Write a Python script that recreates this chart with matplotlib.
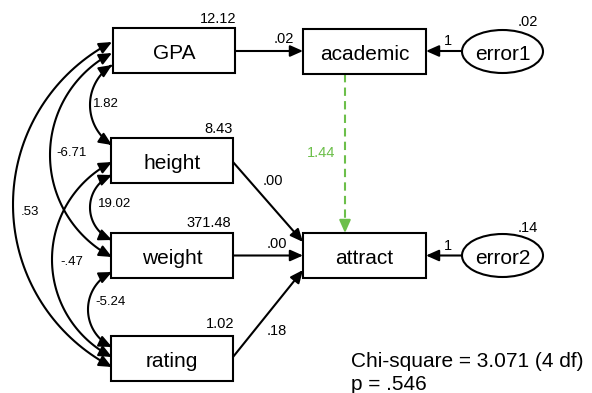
import numpy as np
import matplotlib
matplotlib.use("Agg")
from matplotlib import pyplot as plt
from matplotlib.patches import Rectangle, Ellipse, FancyArrowPatch
from matplotlib.path import Path

plt.rcParams['font.family'] = ['Liberation Sans', 'DejaVu Sans']

# observed exogenous variables and their variances
predictors = ['GPA', 'height', 'weight', 'rating']
pred_var = ['12.12', '8.43', '371.48', '1.02']

# endogenous variables and their error terms
outcomes = ['academic', 'attract']
errors = ['error1', 'error2']
err_var = ['.02', '.14']
err_weight = ['1', '1']

# regression weights
gpa_to_academic = '.02'
to_attract = ['.00', '.00', '.18']   # height, weight, rating
academic_to_attract = '1.44'

# covariances between predictors: (from, to, label)
covs = [('GPA', 'rating', '.53'),
        ('GPA', 'weight', '-6.71'),
        ('GPA', 'height', '1.82'),
        ('height', 'rating', '-.47'),
        ('height', 'weight', '19.02'),
        ('weight', 'rating', '-5.24')]

chi_text = 'Chi-square = 3.071 (4 df)'
p_text = 'p = .546'

# ---- layout (pixels) ----
box_w, box_h = 122, 45
pred_pos = {'GPA': (174, 50.5), 'height': (172, 160.5),
            'weight': (172, 255.5), 'rating': (172, 358.5)}
out_pos = {'academic': (364.5, 51), 'attract': (364.5, 255.5)}
err_pos = {'error1': (502.5, 51.5), 'error2': (502.5, 255.5)}
var_lab_pos = [(218, 23), (219, 133), (209, 227), (220, 328)]
err_var_pos = [(528, 26), (528, 232)]
cov_ends = {'.53': (42, 367, 13), '-6.71': (53, 257, 50), '1.82': (65, 145, 90),
            '-.47': (162, 357, 52), '19.02': (175, 240, 90), '-5.24': (272, 347, 88)}
cov_lab_pos = {'.53': (30, 215), '-6.71': (72, 156), '1.82': (106, 107),
               '-.47': (72, 265), '19.02': (115, 207), '-5.24': (111, 305)}

green = '#6cbf4a'
lw = 1.5
head = 'head_length=0.45,head_width=0.2'

fig = plt.figure(figsize=(5.92, 3.93), dpi=100)
ax = fig.add_axes([0, 0, 1, 1])
ax.set_xlim(0, 592)
ax.set_ylim(393, 0)
ax.axis('off')


def box(name, pos, w):
    cx, cy = pos
    ax.add_patch(Rectangle((cx - w / 2, cy - box_h / 2), w, box_h,
                           fill=False, lw=lw, ec='black', zorder=3))
    ax.text(cx, cy + 8.5, name, fontsize=15, ha='center', va='baseline', zorder=4)


def arrow(p0, p1, color='black', ls='-'):
    a = FancyArrowPatch(p0, p1, arrowstyle='-|>,' + head, mutation_scale=17,
                        shrinkA=0, shrinkB=0, lw=lw, color=color, linestyle=ls, zorder=2)
    ax.add_patch(a)


for name, v, lp in zip(predictors, pred_var, var_lab_pos):
    box(name, pred_pos[name], box_w)
    ax.text(lp[0], lp[1], v, fontsize=10.5, ha='center', va='baseline')

for name in outcomes:
    box(name, out_pos[name], 123)

for name, out, v, wt, lp in zip(errors, outcomes, err_var, err_weight, err_var_pos):
    ex, ey = err_pos[name]
    ax.add_patch(Ellipse((ex, ey), 81, 43, fill=False, lw=lw, ec='black', zorder=3))
    ax.text(ex, ey + 8.5, name, fontsize=15, ha='center', va='baseline')
    ax.text(lp[0], lp[1], v, fontsize=10.5, ha='center', va='baseline')
    ox, oy = out_pos[out]
    arrow((ex - 40.5, oy), (ox + 61.5, oy))
    ax.text(448, oy - 6, wt, fontsize=10.5, ha='center', va='baseline')

# GPA -> academic
arrow((235, 51), (303, 51))
ax.text(284, 43, gpa_to_academic, fontsize=10.5, ha='center', va='baseline')

# predictors -> attract
starts = [(233, 162), (233, 255.5), (233, 357)]
ends = [(303, 242), (303, 255.5), (303, 270)]
lab_xy = [(273, 185), (277, 248), (277, 335)]
for s, e, lab, lp in zip(starts, ends, to_attract, lab_xy):
    arrow(s, e)
    ax.text(lp[0], lp[1], lab, fontsize=10.5, ha='center', va='baseline')

# academic -> attract (dashed green)
ax.plot([345, 345], [74, 224], color=green, lw=lw, ls=(0, (4, 2.5)), zorder=2)
arrow((345, 224), (345, 233), color=green)
ax.text(321, 157, academic_to_attract, fontsize=10.5, ha='center', va='baseline', color=green)

# covariance arcs
xe = 112
for a, b, lab in covs:
    y1, y2, xl = cov_ends[lab]
    ym = (y1 + y2) / 2
    h = (y2 - y1) / 2
    cx = (xe ** 2 + h ** 2 - xl ** 2) / (2 * (xe - xl))
    r = cx - xl
    a1 = np.arctan2(y1 - ym, xe - cx)
    t = np.linspace(a1, -2 * np.pi - a1, 80)
    verts = np.column_stack([cx + r * np.cos(t), ym + r * np.sin(t)])
    p = FancyArrowPatch(path=Path(verts), arrowstyle='<|-|>,' + head,
                        mutation_scale=17, lw=lw, color='black', zorder=2)
    ax.add_patch(p)
    lx, ly = cov_lab_pos[lab]
    ax.text(lx, ly, lab, fontsize=9.5, ha='center', va='baseline')

ax.text(351, 367, chi_text, fontsize=15, ha='left', va='baseline')
ax.text(351, 390, p_text, fontsize=15, ha='left', va='baseline')

fig.savefig('out.png', dpi=100)
